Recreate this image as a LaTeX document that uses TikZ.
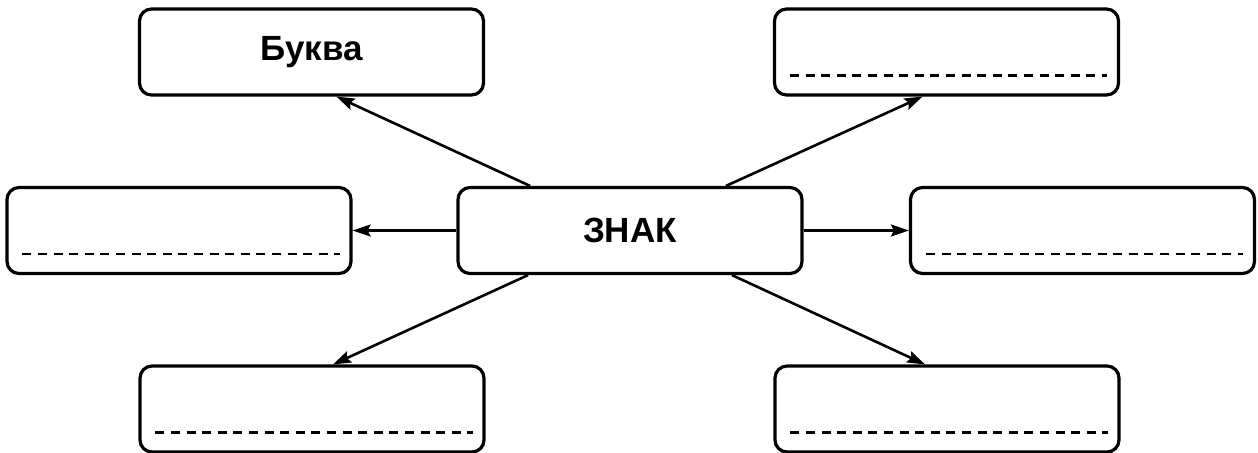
\documentclass[tikz,border=0pt]{standalone}
\usepackage{fontspec}
\setmainfont{Liberation Sans}
\usetikzlibrary{arrows.meta}
\begin{document}
\begin{tikzpicture}[x=0.5pt,y=-0.5pt,
  box/.style={draw=black, line width=1.6pt, rounded corners=6pt, minimum width=172pt, minimum height=43pt, inner sep=0pt, font=\fontsize{17.5}{20}\selectfont\bfseries},
  arr/.style={line width=1.3pt, -{Stealth[length=9pt,width=6pt,inset=1.5pt]}},
  blank/.style={line width=1.2pt, dash pattern=on 4.5pt off 3.3pt}
]
\useasboundingbox (0,0) rectangle (1258,452);
\node[box] (c) at (630,230.5) {ЗНАК};
\node[box] (bukva) at (311.5,52) {Буква};
\node[box] (tr) at (946.5,52) {};
\node[box] (ml) at (179,230.5) {};
\node[box] (mr) at (1082.5,230.5) {};
\node[box] (bl) at (312,409) {};
\node[box] (br) at (947,409) {};
\foreach \b in {tr,ml,mr,bl,br}{
  \draw[blank] ([xshift=8.5pt,yshift=10.5pt]\b.south west) -- ([xshift=-6.5pt,yshift=10.5pt]\b.south east);
}
\draw[arr] ([xshift=-50pt]c.north) -- ([xshift=12.5pt]bukva.south);
\draw[arr] ([xshift=48pt]c.north) -- ([xshift=-12pt]tr.south);
\draw[arr] (c.west) -- (ml.east);
\draw[arr] (c.east) -- (mr.west);
\draw[arr] ([xshift=-51pt]c.south) -- ([xshift=10.5pt]bl.north);
\draw[arr] ([xshift=51pt]c.south) -- ([xshift=-11pt]br.north);
\end{tikzpicture}
\end{document}
